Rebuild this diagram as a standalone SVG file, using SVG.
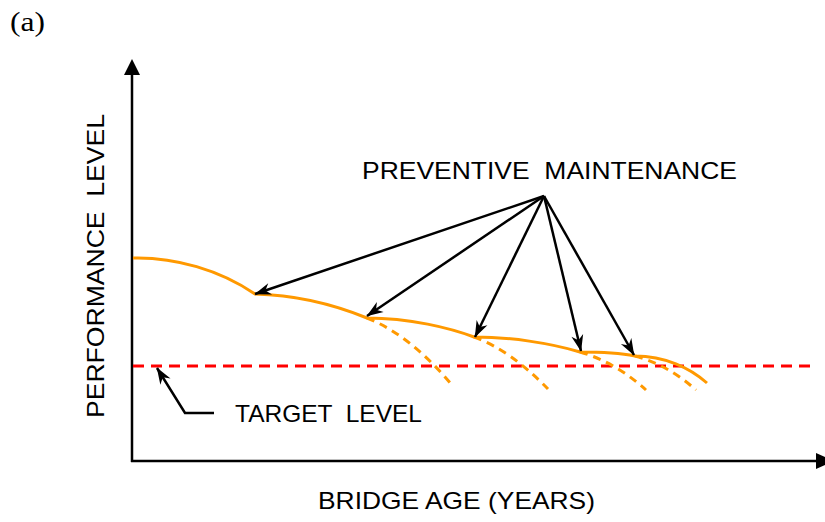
<svg xmlns="http://www.w3.org/2000/svg" width="825" height="522" viewBox="0 0 825 522">
<style>
.ax{stroke:#000;stroke-width:2.5;fill:none}
.ar{stroke:#000;stroke-width:2.5;fill:none;marker-end:url(#ah)}
.cv{stroke:#FF9900;stroke-width:3;fill:none;stroke-linejoin:round}
.cd{stroke:#FF9900;stroke-width:3;fill:none;stroke-dasharray:8 6}
.tg{stroke:#FF0000;stroke-width:3;fill:none;stroke-dasharray:11 7}
.t{font-family:"Liberation Sans",Arial,sans-serif;font-size:24px;fill:#000}
</style>
<defs>
<marker id="ah" viewBox="0 0 18 14" markerWidth="18" markerHeight="14" refX="17" refY="7" orient="auto" markerUnits="userSpaceOnUse">
<path d="M1,1 L17.5,7 L1,13 L6,7 Z" fill="#000"/>
</marker>
</defs>
<rect width="825" height="522" fill="#fff"/>
<text x="10" y="31" font-family="'Liberation Serif','Times New Roman',serif" font-size="27" textLength="35" lengthAdjust="spacingAndGlyphs">(a)</text>
<g id="axes">
<line class="ax" x1="132" y1="73" x2="132" y2="462"/>
<polygon points="132,59 124,75 140,75" fill="#000"/>
<line class="ax" x1="131" y1="461" x2="817" y2="461"/>
<polygon points="834,461 816,453 816,469" fill="#000"/>
</g>
<g id="target-line">
<line class="tg" x1="133" y1="366" x2="812" y2="366"/>
</g>
<g id="performance-curve">
<path class="cv" d="M133,258 C175,257 220,270 255,294 C300,295 340,307 367,318 C410,318 450,328 474,337 C510,337 550,343 580,352 C600,352 620,353 635,356 C665,356 690,368 707,383"/>
<path class="cd" d="M367,318 Q410,335 452,385"/>
<path class="cd" d="M474,337 Q510,350 548,389"/>
<path class="cd" d="M580,352 Q615,362 646,390"/>
<path class="cd" d="M635,356 Q668,365 696,390"/>
</g>
<g id="connectors">
<line class="ar" x1="544" y1="196" x2="255" y2="294"/>
<line class="ar" x1="544" y1="196" x2="367" y2="316"/>
<line class="ar" x1="544" y1="196" x2="475" y2="337"/>
<line class="ar" x1="544" y1="196" x2="581" y2="351"/>
<line class="ar" x1="544" y1="196" x2="634" y2="355"/>
<polyline class="ar" points="214,413 185,413 157,368"/>
</g>
<g id="label-pm">
<text class="t" x="362" y="179" font-size="24" textLength="375" lengthAdjust="spacingAndGlyphs" xml:space="preserve">PREVENTIVE  MAINTENANCE</text>
</g>
<g id="label-target">
<text class="t" x="235" y="422" font-size="23" textLength="187" lengthAdjust="spacingAndGlyphs" xml:space="preserve">TARGET  LEVEL</text>
</g>
<g id="label-y">
<text class="t" transform="translate(104,418) rotate(-90)" x="0" y="0" textLength="304" lengthAdjust="spacingAndGlyphs" xml:space="preserve">PERFORMANCE  LEVEL</text>
</g>
<g id="label-x">
<text class="t" x="318" y="509" font-size="23" textLength="277" lengthAdjust="spacingAndGlyphs">BRIDGE AGE (YEARS)</text>
</g>
</svg>
